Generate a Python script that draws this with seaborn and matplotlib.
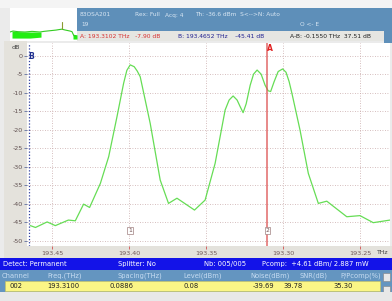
import matplotlib
matplotlib.use("Agg")
import matplotlib.pyplot as plt
import matplotlib.patches as mpatches
import seaborn as sns
import numpy as np

# ---------------- data ----------------
freq_thz = [193.4643, 193.4610, 193.4534, 193.4481, 193.4396, 193.4351, 193.4297,
            193.4258, 193.4188, 193.4134, 193.4080, 193.4037, 193.4016, 193.3994,
            193.3968, 193.3948, 193.3929, 193.3864, 193.3799, 193.3745, 193.3690,
            193.3576, 193.3507, 193.3442, 193.3377, 193.3351, 193.3325, 193.3299,
            193.3279, 193.3260, 193.3240, 193.3214, 193.3192, 193.3169, 193.3143,
            193.3117, 193.3097, 193.3081, 193.3058, 193.3032, 193.3003, 193.2981,
            193.2961, 193.2942, 193.2890, 193.2836, 193.2771, 193.2716, 193.2586,
            193.2500, 193.2414, 193.2305]
level_db = [-45.9, -46.4, -44.9, -45.9, -44.4, -44.6, -40.1,
            -41.0, -34.5, -27.3, -16.5, -7.5, -4.0, -2.5,
            -3.0, -4.2, -5.7, -18.3, -33.6, -39.9, -38.5,
            -41.7, -39.0, -29.1, -14.7, -12.0, -10.9, -12.0,
            -13.8, -15.4, -13.0, -8.0, -5.0, -3.9, -5.0,
            -8.0, -9.5, -9.7, -7.0, -4.3, -3.6, -4.5,
            -7.0, -10.3, -20.1, -31.8, -39.9, -39.3, -43.5,
            -43.2, -45.1, -44.4]

x_ticks = [193.45, 193.40, 193.35, 193.30, 193.25]
x_tick_labels = ["193.45", "193.40", "193.35", "193.30", "193.25"]
y_ticks = [0, -5, -10, -15, -20, -25, -30, -35, -40, -45, -50]

marker_a = 193.3102
marker_b = 193.4652
channel_marks = [193.3994, 193.3102]
channel_labels = ["1", "2"]

header_line1 = ["83OSA201", "Rex: Full", "Acq: 4", "Th: -36.6 dBm  S<-->N: Auto"]
header_line2 = ["19", "O <- E"]
marker_texts = ["A: 193.3102 THz   -7.90 dB", "B: 193.4652 THz    -45.41 dB",
                "A-B: -0.1550 THz  37.51 dB"]
status_texts = ["Detect: Permanent", "Splitter: No", "Nb: 005/005",
                "Pcomp:  +4.61 dBm/ 2.887 mW"]
table_cols = ["Channel", "Freq.(THz)", "Spacing(THz)", "Level(dBm)", "Noise(dBm)",
              "SNR(dB)", "P/Pcomp(%)"]
table_vals = ["002", "193.3100", "0.0886", "0.08", "-39.69", "39.78", "35.30"]

# thumbnail spectrum (miniature)
thumb_x = [0, 3, 8, 15, 22, 30, 34, 40, 46, 52, 54, 57, 60, 62, 63, 64, 66]
thumb_y = [2.5, 2.8, 2.6, 2.5, 2.7, 2.5, 2.7, 2.9, 3.1, 3.4, 3.2, 3.0, 2.8, 2.6, 1.9, 1.3, 1.3]

# ---------------- figure ----------------
W, H = 392, 301
sns.set_theme(style="white")
plt.rcParams['font.family'] = ['DejaVu Sans']
fig = plt.figure(figsize=(W / 100, H / 100), dpi=100)
fig.patch.set_facecolor("#ebebeb")


def fx(x):
    return x / W


def fy(y):
    return 1 - y / H


def rect(x0, y0, x1, y1, color, ec="none", lw=0, z=-5):
    fig.patches.append(mpatches.Rectangle((fx(x0), fy(y1)), (x1 - x0) / W, (y1 - y0) / H,
                                          transform=fig.transFigure, facecolor=color,
                                          edgecolor=ec, linewidth=lw, zorder=z))


def txt(x, y, s, color, size=4.6, weight="normal", ha="left"):
    fig.text(fx(x), fy(y), s, color=color, fontsize=size, fontweight=weight,
             ha=ha, va="center", zorder=5)


# top frame areas
rect(0, 0, 392, 8, "#f4f4f4")
rect(10, 8, 77, 41, "#ffffff")
rect(77, 8, 384, 31, "#5e8fb9")
rect(77, 31, 384, 41, "#e6e6e2")
rect(384, 8, 392, 43, "#5e8fb9")
# left and bottom label strips
rect(4, 41, 27, 258, "#e4e2dc")
rect(4, 246, 392, 258, "#e4e2dc")

for x, s in zip([80, 135, 165, 195], header_line1):
    txt(x, 15, s, "#d8e6f3", 4.2)
txt(81, 25, header_line2[0], "#d8e6f3", 4.2)
txt(300, 25, header_line2[1], "#d8e6f3", 4.2)
txt(80, 36, marker_texts[0], "#d83030", 4.3)
txt(178, 36, marker_texts[1], "#202090", 4.3)
txt(290, 36, marker_texts[2], "#202020", 4.3)

# status bar and table
rect(0, 258, 392, 270, "#1313e8")
for x, s in zip([3, 118, 204, 262], status_texts):
    txt(x, 264, s, "#ffffff", 4.9)
rect(0, 270, 392, 292, "#6495c0")
for x, s in zip([2, 47, 118, 183, 250, 300, 340], table_cols):
    txt(x, 275.5, s, "#c6dcf2", 4.9)
rect(5, 281, 380, 291, "#fbf686", ec="#c8c060", lw=0.4)
for x, s in zip([10, 47, 110, 183, 253, 283, 333], table_vals):
    txt(x, 286, s, "#202020", 4.9)
rect(383, 273, 390, 281, "#e8e8e8", ec="#808080", lw=0.4)
rect(383, 286, 390, 293, "#e8e8e8", ec="#808080", lw=0.4)
rect(0, 292, 392, 301, "#e8e8e8")

# thumbnail
tax = fig.add_axes([fx(10), fy(40), 67 / W, 32 / H])
tax.set_xlim(0, 67)
tax.set_ylim(0, 10)
tax.axis("off")
tax.plot(thumb_x, thumb_y, color="#33cc22", lw=0.8)
tax.fill_between([2, 4, 10, 20, 31], [2.8, 2.7, 2.6, 2.5, 2.5], [0.6, 0.6, 0.6, 0.6, 0.9],
                 color="#22ee11", lw=0)
tax.fill_between([63, 67], [1.8, 1.6], [0.3, 0.3], color="#22ee11", lw=0)
tax.plot([52, 52], [3.3, 5.6], color="#8a9a30", lw=0.8)

# ---------------- main plot ----------------
ax = fig.add_axes([fx(27), fy(246), (390 - 27) / W, (246 - 43) / H])
ax.set_facecolor("#ffffff")
sns.lineplot(x=freq_thz, y=level_db, ax=ax, color="#66dd55", linewidth=0.9)
ax.set_xlim(193.4665, 193.2305)
ax.set_ylim(-51.4, 3.4)
ax.set_xticks(x_ticks)
ax.set_xticklabels(x_tick_labels)
ax.set_yticks(y_ticks)
ax.set_yticklabels([str(v) for v in y_ticks])
ax.grid(True, color="#c8a8a8", linestyle=(0, (1, 2)), linewidth=0.6)
for s in ax.spines.values():
    s.set_visible(False)
ax.tick_params(axis="x", length=2, width=0.6, color="#d05050", labelsize=4.6,
               labelcolor="#705858", pad=1.5, bottom=True, direction="out")
ax.tick_params(axis="y", length=2, width=0.6, color="#6070a0", labelsize=4.6,
               labelcolor="#605050", pad=1, left=True, direction="out")
ax.set_xlabel("")
ax.set_ylabel("")

# markers
ax.axvline(marker_a, color="#dd5050", lw=1.1, alpha=0.85)
ax.axvline(marker_b, color="#3040a0", lw=0.9, linestyle=(0, (1, 1.5)))
ax.text(marker_a, 2.0, "A", color="#e02020", fontsize=5.5, fontweight="bold",
        ha="left", va="center")
ax.text(marker_b + 0.0002, -0.3, "B", color="#203090", fontsize=5.5, fontweight="bold",
        ha="left", va="center")
for f, lab in zip(channel_marks, channel_labels):
    ax.text(f, -47.3, lab, color="#705050", fontsize=4.3, ha="center", va="center",
            bbox=dict(boxstyle="square,pad=0.15", fc="#ffffff", ec="#a08080", lw=0.5))

fig.text(fx(16), fy(48), "dB", color="#404040", fontsize=4.6, ha="center", va="center")
fig.text(fx(383), fy(252.5), "THz", color="#404040", fontsize=4.4, ha="center", va="center")

fig.savefig("out.png", dpi=100)
